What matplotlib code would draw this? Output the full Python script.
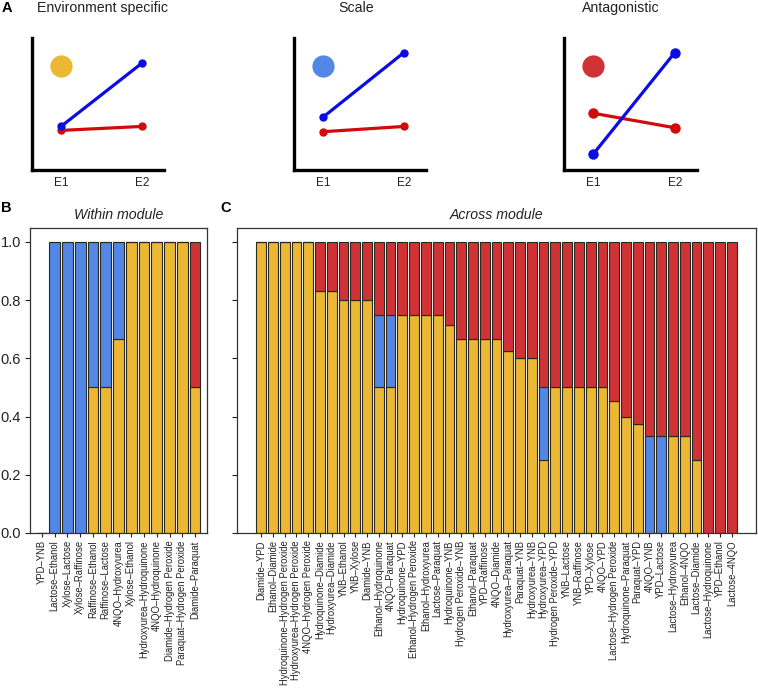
import matplotlib
matplotlib.use('Agg')
import matplotlib.pyplot as plt

plt.rcParams['font.family'] = ['Liberation Sans', 'DejaVu Sans']

# ---------------- data ----------------
# Panel A (schematic)
a_titles = ['Environment specific', 'Scale', 'Antagonistic']
a_envs = ['E1', 'E2']
a_blue = [[0.33, 0.81], [0.40, 0.89], [0.12, 0.89]]
a_red = [[0.30, 0.33], [0.29, 0.33], [0.43, 0.32]]
a_dot_y = [0.79, 0.79, 0.79]

# Panel B: within module
b_labels = ['YPD–YNB', 'Lactose–Ethanol', 'Xylose–Lactose', 'Xylose–Raffinose',
            'Raffinose–Ethanol', 'Raffinose–Lactose', '4NQO–Hydroxyurea', 'Xylose–Ethanol',
            'Hydroxyurea–Hydroquinone', '4NQO–Hydroquinone', 'Diamide–Hydrogen Peroxide',
            'Paraquat–Hydrogen Peroxide', 'Diamide–Paraquat']
b_env_specific = [0, 0, 0, 0, 0.5, 0.5, 0.667, 1, 1, 1, 1, 1, 0.5]
b_scale = [0, 1, 1, 1, 0.5, 0.5, 0.333, 0, 0, 0, 0, 0, 0]
b_antagonistic = [0, 0, 0, 0, 0, 0, 0, 0, 0, 0, 0, 0, 0.5]

# Panel C: across module
c_labels = ['Diamide–YPD', 'Ethanol–Diamide', 'Hydroquinone–Hydrogen Peroxide',
            'Hydroxyurea–Hydrogen Peroxide', '4NQO–Hydrogen Peroxide', 'Hydroquinone–Diamide',
            'Hydroxyurea–Diamide', 'YNB–Ethanol', 'YNB–Xylose', 'Diamide–YNB',
            'Ethanol–Hydroquinone', '4NQO–Paraquat', 'Hydroquinone–YPD',
            'Ethanol–Hydrogen Peroxide', 'Ethanol–Hydroxyurea', 'Lactose–Paraquat',
            'Hydroquinone–YNB', 'Hydrogen Peroxide–YNB', 'Ethanol–Paraquat', 'YPD–Raffinose',
            '4NQO–Diamide', 'Hydroxyurea–Paraquat', 'Paraquat–YNB', 'Hydroxyurea–YNB',
            'Hydroxyurea–YPD', 'Hydrogen Peroxide–YPD', 'YNB–Lactose', 'YNB–Raffinose',
            'YPD–Xylose', '4NQO–YPD', 'Lactose–Hydrogen Peroxide', 'Hydroquinone–Paraquat',
            'Paraquat–YPD', '4NQO–YNB', 'YPD–Lactose', 'Lactose–Hydroxyurea', 'Ethanol–4NQO',
            'Lactose–Diamide', 'Lactose–Hydroquinone', 'YPD–Ethanol', 'Lactose–4NQO']
c_env_specific = [1, 1, 1, 1, 1, 0.833, 0.833, 0.8, 0.8, 0.8,
                  0.5, 0.5, 0.75, 0.75, 0.75, 0.75, 0.714, 0.667, 0.667, 0.667,
                  0.667, 0.625, 0.6, 0.6, 0.25, 0.5, 0.5, 0.5, 0.5, 0.5,
                  0.455, 0.4, 0.375, 0, 0, 0.333, 0.333, 0.25, 0, 0, 0]
c_scale = [0, 0, 0, 0, 0, 0, 0, 0, 0, 0,
           0.25, 0.25, 0, 0, 0, 0, 0, 0, 0, 0,
           0, 0, 0, 0, 0.25, 0, 0, 0, 0, 0,
           0, 0, 0, 0.333, 0.333, 0, 0, 0, 0, 0, 0]
c_antagonistic = [0, 0, 0, 0, 0, 0.167, 0.167, 0.2, 0.2, 0.2,
                  0.25, 0.25, 0.25, 0.25, 0.25, 0.25, 0.286, 0.333, 0.333, 0.333,
                  0.333, 0.375, 0.4, 0.4, 0.5, 0.5, 0.5, 0.5, 0.5, 0.5,
                  0.545, 0.6, 0.625, 0.667, 0.667, 0.667, 0.667, 0.75, 1, 1, 1]

# ---------------- style ----------------
YELLOW = '#ECB733'
BLUE = '#5287E6'
RED = '#D03236'
EDGE = '#2a2a22'
LINE_BLUE = '#0B0BE3'
LINE_RED = '#D10A0A'

W, H = 758, 696
fig = plt.figure(figsize=(W / 100, H / 100), dpi=100)


def px_axes(left, top, right, bottom):
    return fig.add_axes([left / W, 1 - bottom / H, (right - left) / W, (bottom - top) / H])


def ftext(x, y, s, **kw):
    fig.text(x / W, 1 - y / H, s, **kw)


# ---------------- panel A ----------------
a_boxes = [(32, 38, 164, 170), (294, 38, 426, 170), (564, 38, 697, 170)]
a_title_x = [102, 356, 621]
a_dot_colors = [YELLOW, BLUE, RED]
a_msize = [5, 5, 6.5]
for k in range(3):
    ax = px_axes(*a_boxes[k])
    xs = [1, 2]
    ax.plot(xs, a_red[k], color=LINE_RED, lw=2.3, marker='o', ms=a_msize[k],
            solid_capstyle='round', zorder=3)
    ax.plot(xs, a_blue[k], color=LINE_BLUE, lw=2.3, marker='o', ms=a_msize[k],
            solid_capstyle='round', zorder=4)
    ax.plot([1], [a_dot_y[k]], marker='o', ms=16, color=a_dot_colors[k], mec='none', ls='none')
    ax.set_xlim(1 - 29 / 81, 2 + 22 / 81)
    ax.set_ylim(0, 1)
    ax.set_xticks(xs)
    ax.set_xticklabels(a_envs, fontsize=8.5, color='#222222')
    ax.tick_params(axis='x', length=0, pad=5)
    ax.set_yticks([])
    for s in ['top', 'right']:
        ax.spines[s].set_visible(False)
    for s in ['left', 'bottom']:
        ax.spines[s].set_linewidth(2.4)
        ax.spines[s].set_color('black')
        ax.spines[s].set_capstyle('projecting')
    ftext(a_title_x[k], 8, a_titles[k], fontsize=10.2, ha='center', va='center', color='#222222')

ftext(7, 8, 'A', fontsize=10.5, fontweight='bold', ha='center', va='center')
ftext(6, 207.5, 'B', fontsize=10.5, fontweight='bold', ha='center', va='center')
ftext(226, 207.5, 'C', fontsize=10.5, fontweight='bold', ha='center', va='center')


# ---------------- panels B and C ----------------
def bar_panel(ax, labels, yel, blu, red, title, show_ylabels):
    n = len(labels)
    x = [0.7 + 1.2 * i for i in range(n)]
    kw = dict(width=1.0, edgecolor=EDGE, linewidth=0.8)
    ax.bar(x, yel, color=YELLOW, **kw)
    ax.bar(x, blu, bottom=yel, color=BLUE, **kw)
    bot2 = [a + b for a, b in zip(yel, blu)]
    ax.bar(x, red, bottom=bot2, color=RED, **kw)
    span = 1.2 * n - 0.2
    ax.set_xlim(0.2 - 0.04 * span, 0.2 + span + 0.04 * span)
    ax.set_ylim(0, 1.048)
    ax.set_xticks(x)
    ax.set_xticklabels(labels, rotation=90, fontsize=6.85, ha='center', va='top',
                       color='#222222')
    ax.set_yticks([0, 0.2, 0.4, 0.6, 0.8, 1.0])
    if show_ylabels:
        ax.set_yticklabels(['0.0', '0.2', '0.4', '0.6', '0.8', '1.0'], fontsize=10.5,
                           color='#222222')
    else:
        ax.set_yticklabels([])
    ax.tick_params(axis='x', length=3.2, width=0.8, pad=2, colors='#222222')
    ax.tick_params(axis='y', length=3.5, width=0.8, pad=3, colors='#222222')
    for s in ax.spines.values():
        s.set_linewidth(0.9)
        s.set_color('#333333')
    ax.text(0.5, 1.0 + 13 / 305, title, transform=ax.transAxes, fontsize=10.2,
            style='italic', ha='center', va='center', color='#222222')


axB = px_axes(30, 228, 207, 533)
bar_panel(axB, b_labels, b_env_specific, b_scale, b_antagonistic, 'Within module', True)

axC = px_axes(237, 228, 756, 533)
bar_panel(axC, c_labels, c_env_specific, c_scale, c_antagonistic, 'Across module', False)

fig.savefig('out.png', dpi=100)
